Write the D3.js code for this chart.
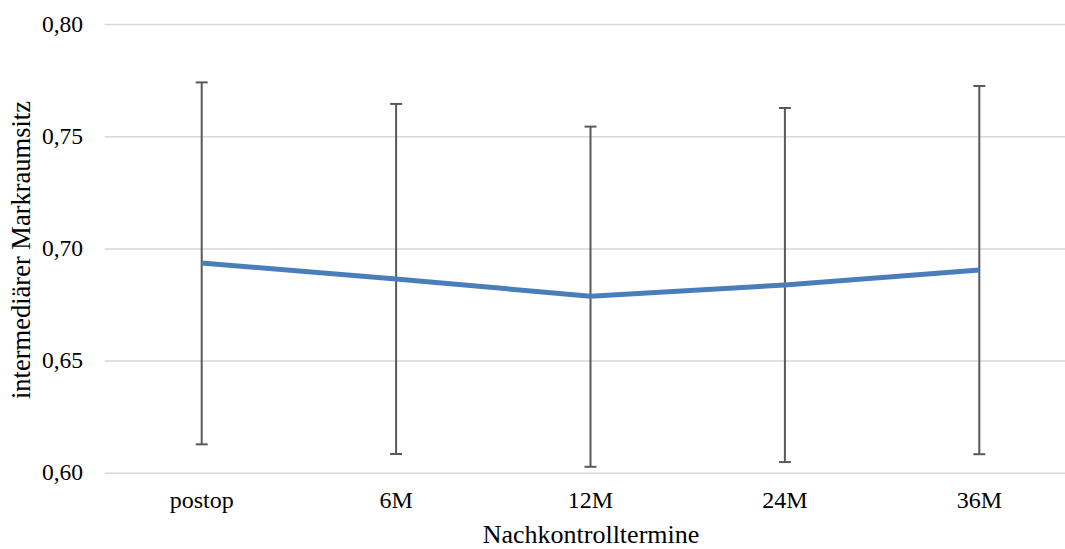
<!DOCTYPE html>
<html>
<head>
<meta charset="utf-8">
<script src="https://cdn.jsdelivr.net/npm/d3@7"></script>
<style>
  body { margin: 0; background: #fff; }
  text { font-family: "Liberation Serif", "Times New Roman", serif; fill: #000; }
</style>
</head>
<body>
<script>
// data
const categories = ['postop', '6M', '12M', '24M', '36M'];
const means = [0.6937, 0.6866, 0.6789, 0.6839, 0.6906];
const upper = [0.7742, 0.7646, 0.7545, 0.7628, 0.7726];
const lower = [0.6129, 0.6086, 0.6029, 0.6050, 0.6085];
const yTicks = [0.60, 0.65, 0.70, 0.75, 0.80];

const outerW = 1065, outerH = 549;

const svg = d3.select('body').append('svg')
    .attr('width', outerW)
    .attr('height', outerH);

const x = d3.scaleBand().domain(categories).range([104.5, 1076.5]);
const y = d3.scaleLinear().domain([0.60, 0.80]).range([473.3, 24.5]);
const cx = d => x(d) + x.bandwidth() / 2;

// gridlines
svg.append('g').selectAll('line')
    .data(yTicks)
    .enter().append('line')
    .attr('x1', 104.5).attr('x2', outerW)
    .attr('y1', d => y(d)).attr('y2', d => y(d))
    .style('stroke', '#d9d9d9')
    .style('stroke-width', 1.5);

// y tick labels
const fmt = d => d3.format('.2f')(d).replace('.', ',');
svg.append('g').selectAll('text')
    .data(yTicks)
    .enter().append('text')
    .attr('x', 83)
    .attr('y', d => y(d) + 7)
    .attr('text-anchor', 'end')
    .style('font-size', '23.5px')
    .text(fmt);

// x tick labels
svg.append('g').selectAll('text')
    .data(categories)
    .enter().append('text')
    .attr('x', d => cx(d))
    .attr('y', 508)
    .attr('text-anchor', 'middle')
    .style('font-size', '24px')
    .text(d => d);

// error bars
const eb = svg.append('g')
    .style('stroke', '#595959')
    .style('stroke-width', 2);

categories.forEach((c, i) => {
    eb.append('line')
        .attr('x1', cx(c)).attr('x2', cx(c))
        .attr('y1', y(upper[i])).attr('y2', y(lower[i]));
    [upper[i], lower[i]].forEach(v => {
        eb.append('line')
            .attr('x1', cx(c) - 6).attr('x2', cx(c) + 6)
            .attr('y1', y(v)).attr('y2', y(v));
    });
});

// mean line
const line = d3.line()
    .x((d, i) => cx(categories[i]))
    .y(d => y(d));

svg.append('path')
    .datum(means)
    .attr('d', line)
    .style('fill', 'none')
    .style('stroke', '#4a7ebb')
    .style('stroke-width', 5)
    .style('stroke-linejoin', 'round');

// axis titles
svg.append('text')
    .attr('x', 591)
    .attr('y', 543)
    .attr('text-anchor', 'middle')
    .style('font-size', '26px')
    .text('Nachkontrolltermine');

svg.append('text')
    .attr('transform', 'translate(30,250) rotate(-90)')
    .attr('text-anchor', 'middle')
    .style('font-size', '26.5px')
    .text('intermediärer Markraumsitz');
</script>
</body>
</html>
